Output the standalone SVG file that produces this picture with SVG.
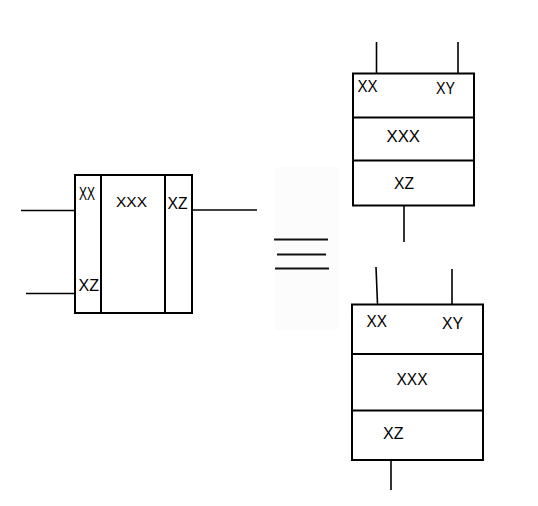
<svg xmlns="http://www.w3.org/2000/svg" width="538" height="506" viewBox="0 0 538 506">
<style>
.box{fill:#fff;stroke:#000;stroke-width:2}
.div{stroke:#000;stroke-width:2;fill:none}
.wire{stroke:#000;stroke-width:1.6;fill:none}
.eq{stroke:#111;stroke-width:2.2;fill:none}
text{font-family:"Liberation Sans",Arial,sans-serif;font-size:16px;fill:#000}
</style>
<rect width="538" height="506" fill="#fff"/>
<rect x="275" y="167" width="63" height="163" fill="#fcfcfc"/>
<g id="connectors">
<line class="wire" x1="21" y1="210.5" x2="75" y2="210.5"/>
<line class="wire" x1="26" y1="293.5" x2="75" y2="293.5"/>
<line class="wire" x1="192" y1="210" x2="257" y2="210"/>
<line class="wire" x1="376.5" y1="42" x2="376.5" y2="73"/>
<line class="wire" x1="458" y1="42" x2="458" y2="73"/>
<line class="wire" x1="404" y1="206" x2="404" y2="242"/>
<line class="wire" x1="376" y1="267" x2="377.5" y2="304"/>
<line class="wire" x1="452" y1="269" x2="452" y2="304"/>
<line class="wire" x1="391" y1="460" x2="391" y2="490"/>
</g>
<g id="equals">
<line class="eq" x1="274" y1="239.5" x2="328" y2="239.5"/>
<line class="eq" x1="277" y1="254.5" x2="326" y2="254.5"/>
<line class="eq" x1="275" y1="268.5" x2="329" y2="268.5"/>
</g>
<g id="left-block">
<rect class="box" x="75" y="175" width="117" height="138"/>
<line class="div" x1="101" y1="175" x2="101" y2="313"/>
<line class="div" x1="165" y1="175" x2="165" y2="313"/>
<text x="79" y="200" style="font-size:18px" textLength="16" lengthAdjust="spacingAndGlyphs">XX</text>
<text x="116" y="206.5" style="font-size:14.5px" textLength="31" lengthAdjust="spacingAndGlyphs">XXX</text>
<text x="167.5" y="208.5" textLength="20" lengthAdjust="spacingAndGlyphs">XZ</text>
<text x="78.5" y="291" style="font-size:17px" textLength="20.5" lengthAdjust="spacingAndGlyphs">XZ</text>
</g>
<g id="top-right-block">
<rect class="box" x="353" y="73.5" width="121" height="132"/>
<line class="div" x1="353" y1="117.5" x2="474" y2="117.5"/>
<line class="div" x1="353" y1="160.5" x2="474" y2="160.5"/>
<text x="357.5" y="91.5" textLength="20" lengthAdjust="spacingAndGlyphs">XX</text>
<text x="436" y="93.5" textLength="19" lengthAdjust="spacingAndGlyphs">XY</text>
<text x="386.5" y="141.5" textLength="33.5" lengthAdjust="spacingAndGlyphs">XXX</text>
<text x="394" y="188.5" textLength="20" lengthAdjust="spacingAndGlyphs">XZ</text>
</g>
<g id="bottom-right-block">
<rect class="box" x="352" y="304.5" width="131" height="155.5"/>
<line class="div" x1="352" y1="354" x2="483" y2="354"/>
<line class="div" x1="352" y1="410.5" x2="483" y2="410.5"/>
<text x="366.5" y="327" textLength="20.5" lengthAdjust="spacingAndGlyphs">XX</text>
<text x="442" y="328.5" textLength="21" lengthAdjust="spacingAndGlyphs">XY</text>
<text x="396.5" y="384.5" textLength="31" lengthAdjust="spacingAndGlyphs">XXX</text>
<text x="383" y="439" textLength="20.5" lengthAdjust="spacingAndGlyphs">XZ</text>
</g>
</svg>
